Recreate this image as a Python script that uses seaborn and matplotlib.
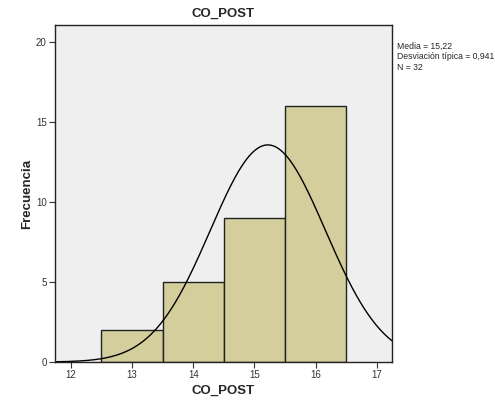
import numpy as np
import pandas as pd
import matplotlib
matplotlib.use("Agg")
import matplotlib.pyplot as plt
import seaborn as sns

bin_centers = [13, 14, 15, 16]
counts = [2, 5, 9, 16]
bin_edges = [12.5, 13.5, 14.5, 15.5, 16.5]
mean = 15.22
sd = 0.941
n = 32
x_ticks = [12, 13, 14, 15, 16, 17]
y_ticks = [0, 5, 10, 15, 20]

sns.set_style("ticks")
plt.rcParams['font.family'] = ['Liberation Sans', 'DejaVu Sans']

fig = plt.figure(figsize=(4.95, 4.0), dpi=100)
ax = fig.add_axes([0.111, 0.095, 0.681, 0.8425])
ax.set_facecolor("#efefef")

df = pd.DataFrame({"CO_POST": bin_centers, "w": counts})
sns.histplot(data=df, x="CO_POST", weights="w", bins=bin_edges, ax=ax,
             color="#d3ce9b", alpha=1, edgecolor="#222222", linewidth=1.0)

xs = np.linspace(11.74, 17.25, 400)
binw = 1.0
ys = n * binw / (sd * np.sqrt(2 * np.pi)) * np.exp(-0.5 * ((xs - mean) / sd) ** 2)
sns.lineplot(x=xs, y=ys, ax=ax, color="black", linewidth=1.0)

ax.set_xlim(11.74, 17.25)
ax.set_ylim(0, 21.06)
ax.set_xticks(x_ticks)
ax.set_yticks(y_ticks)
ax.tick_params(axis="both", labelsize=7, length=4, width=0.8, direction="out",
               color="#333333", labelcolor="#333333", pad=2)
for s in ax.spines.values():
    s.set_color("#222222")
    s.set_linewidth(1.0)

ax.set_xlabel("CO_POST", fontsize=9.5, fontweight="bold", labelpad=3)
ax.set_ylabel("Frecuencia", fontsize=9.5, fontweight="bold", labelpad=2)
ax.set_title("CO_POST", fontsize=9.5, fontweight="bold", pad=6)

fig.text(0.802, 0.896, "Media = 15,22\nDesviación típica = 0,941\nN = 32",
         fontsize=6.2, va="top", ha="left", linespacing=1.25)

fig.savefig("out.png", dpi=100)
